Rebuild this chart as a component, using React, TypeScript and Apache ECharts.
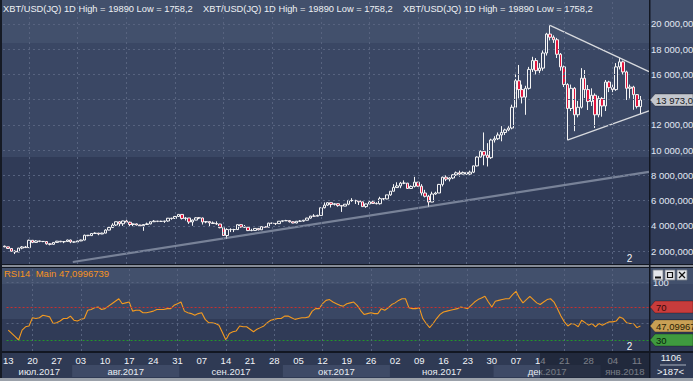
import React, { useEffect, useRef } from "react";
import * as echarts from "echarts";

const FONT = "Liberation Sans, Arial, sans-serif";

const START_DATE = Date.UTC(2017, 6, 13);
const SLOT_COUNT = 186; // 184 daily bars + 2 empty slots on the right

const OPEN = [
  2385, 2330, 2200, 1980, 1920, 2230, 2320, 2270, 2850, 2680,
  2800, 2760, 2750, 2570, 2530, 2680, 2780, 2730, 2750, 2870,
  2720, 2710, 2800, 2870, 3250, 3220, 3390, 3420, 3350, 3420,
  3660, 3860, 4060, 4320, 4160, 4380, 4280, 4100, 4150, 4060,
  4000, 4100, 4150, 4320, 4370, 4350, 4350, 4380, 4600, 4580,
  4740, 4900, 4580, 4620, 4300, 4450, 4630, 4620, 4300, 4330,
  4230, 4180, 4140, 3850, 3230, 3700, 3700, 3700, 4090, 3910,
  3880, 3620, 3630, 3790, 3680, 3930, 3890, 4210, 4190, 4170,
  4360, 4400, 4410, 4320, 4220, 4360, 4370, 4440, 4610, 4770,
  4760, 4820, 5430, 5640, 5830, 5690, 5750, 5600, 5560, 5710,
  6000, 6010, 5980, 5900, 5520, 5730, 5890, 5770, 5750, 6150,
  6130, 6450, 6740, 7030, 7160, 7380, 7380, 6960, 7120, 7460,
  7140, 6600, 6340, 5880, 6520, 6600, 7280, 7850, 7700, 7790,
  8040, 8200, 8100, 8230, 8100, 8250, 8750, 9450, 9900, 9600,
  9400, 10800, 10900, 11200, 11400, 11600, 11750, 13400, 15500, 14800,
  14200, 14900, 16400, 17100, 16300, 16500, 17700, 19200, 18950, 18750,
  17600, 16600, 15200, 13300, 14900, 12800, 13400, 15700, 14800, 13850,
  14350, 12800, 14100, 13500, 15400, 14950, 14800, 16600, 17000, 16200,
  14900, 15000, 14400, 13450,
];
const HIGH = [
  2425, 2340, 2230, 2060, 2250, 2390, 2400, 2900, 2860, 2860,
  2810, 2780, 2760, 2600, 2700, 2800, 2790, 2760, 2900, 2900,
  2740, 2810, 2900, 3300, 3270, 3420, 3480, 3430, 3450, 3720,
  3950, 4200, 4330, 4370, 4400, 4480, 4330, 4180, 4180, 4080,
  4130, 4250, 4340, 4450, 4380, 4400, 4380, 4620, 4630, 4740,
  4900, 4930, 4700, 4620, 4500, 4680, 4680, 4650, 4350, 4330,
  4340, 4350, 4150, 3920, 3800, 3800, 3760, 4100, 4120, 4060,
  3900, 3760, 3820, 3800, 3960, 3980, 4240, 4250, 4210, 4370,
  4400, 4470, 4430, 4350, 4380, 4450, 4460, 4630, 4780, 4920,
  4880, 5430, 5850, 5840, 5840, 5780, 5770, 5600, 5720, 6060,
  6190, 6060, 6040, 5900, 5760, 5970, 5990, 5860, 6300, 6200,
  6450, 6740, 7300, 7450, 7480, 7600, 7400, 7200, 7880, 7460,
  7300, 6850, 6450, 6700, 6700, 7320, 7900, 8000, 7850, 8100,
  8300, 8370, 8300, 8270, 8370, 8760, 9500, 9980, 11400, 10550,
  10900, 11100, 11400, 11900, 11700, 11900, 13600, 16000, 16750, 15200,
  15100, 16600, 17400, 17300, 16900, 17900, 19300, 19890, 19100, 18900,
  17700, 16700, 15300, 15200, 15000, 13900, 16500, 16350, 15160, 14900,
  14500, 14300, 14200, 15560, 15500, 15200, 16900, 17300, 17100, 16300,
  15200, 15100, 14450, 14290,
];
const LOW = [
  2300, 2160, 1960, 1758.2, 1920, 2140, 2270, 2250, 2620, 2670,
  2700, 2700, 2500, 2450, 2520, 2650, 2700, 2620, 2740, 2620,
  2660, 2700, 2780, 2850, 3170, 3210, 3370, 3250, 3340, 3410,
  3640, 3850, 3990, 3900, 3990, 4150, 3980, 3970, 4030, 3950,
  3600, 4080, 4120, 4310, 4290, 4320, 4230, 4320, 4480, 4570,
  4720, 4500, 4420, 4150, 4000, 4440, 4530, 4100, 4200, 3900,
  4150, 4080, 3800, 3220, 2970, 3500, 3500, 3690, 3850, 3860,
  3580, 3570, 3600, 3640, 3670, 3860, 3890, 4140, 4060, 4160,
  4290, 4380, 4260, 4200, 4200, 4350, 4320, 4430, 4570, 4740,
  4750, 4820, 5380, 5580, 5450, 5610, 5510, 5100, 5550, 5630,
  5900, 5730, 5650, 5500, 5420, 5720, 5740, 5700, 5680, 6030,
  6100, 6380, 6740, 7020, 6980, 7300, 6950, 6960, 7040, 7090,
  6400, 6250, 5500, 5870, 6460, 6600, 7120, 7540, 7520, 7700,
  7950, 7900, 8090, 8050, 8030, 8180, 8700, 9420, 8800, 8700,
  9300, 10600, 10800, 10700, 11200, 11500, 11650, 13300, 14100, 13700,
  12800, 14800, 16200, 16000, 16100, 16300, 17500, 18700, 18500, 17300,
  16300, 15000, 10800, 13100, 11500, 12600, 13300, 14130, 13180, 13500,
  11750, 12600, 12650, 13100, 14600, 14400, 14700, 16400, 16000, 13970,
  14100, 13200, 13300, 12850,
];
const CLOSE = [
  2330, 2200, 1980, 1920, 2230, 2320, 2270, 2850, 2680, 2800,
  2760, 2750, 2570, 2530, 2680, 2780, 2730, 2750, 2870, 2720,
  2710, 2800, 2870, 3250, 3220, 3390, 3420, 3350, 3420, 3660,
  3860, 4060, 4320, 4160, 4380, 4280, 4100, 4150, 4060, 4000,
  4100, 4150, 4320, 4370, 4350, 4350, 4380, 4600, 4580, 4740,
  4900, 4580, 4620, 4300, 4450, 4630, 4620, 4300, 4330, 4230,
  4180, 4140, 3850, 3230, 3700, 3700, 3700, 4090, 3910, 3880,
  3620, 3630, 3790, 3680, 3930, 3890, 4210, 4190, 4170, 4360,
  4400, 4410, 4320, 4220, 4360, 4370, 4440, 4610, 4770, 4760,
  4820, 5430, 5640, 5830, 5690, 5750, 5600, 5560, 5710, 6000,
  6010, 5980, 5900, 5520, 5730, 5890, 5770, 5750, 6150, 6130,
  6450, 6740, 7030, 7160, 7380, 7380, 6960, 7120, 7460, 7140,
  6600, 6340, 5880, 6520, 6600, 7280, 7850, 7700, 7790, 8040,
  8200, 8100, 8230, 8100, 8250, 8750, 9450, 9900, 9600, 9400,
  10800, 10900, 11200, 11400, 11600, 11750, 13400, 15500, 14800, 14200,
  14900, 16400, 17100, 16300, 16500, 17700, 19200, 18950, 18750, 17600,
  16600, 15200, 13300, 14900, 12800, 13400, 15700, 14800, 13850, 14350,
  12800, 14100, 13500, 15400, 14950, 14800, 16600, 17000, 16200, 14900,
  15000, 14400, 13450, 13973,
];
const RSI14 = [
  42, 38, 34, 30, 42, 46, 47, 57, 56, 57,
  60, 59, 58, 50, 51, 53, 56, 56, 59, 54,
  53, 55, 56, 66, 67, 69, 70, 67, 68, 71,
  74, 77, 80, 74, 75, 76, 65, 66, 66, 63,
  63, 64, 65, 67, 67, 67, 68, 68, 72, 74,
  76, 65, 63, 62, 60, 62, 63, 55, 51, 51,
  50, 48, 39, 30, 38, 40, 41, 47, 46, 46,
  43, 40, 43, 45, 47, 51, 54, 55, 56, 56,
  59, 59, 57, 55, 56, 57, 57, 58, 65, 68,
  68, 74, 78, 79, 76, 74, 72, 71, 74, 75,
  76, 72, 66, 61, 62, 63, 62, 62, 68, 66,
  69, 73, 75, 78, 80, 80, 69, 68, 68, 69,
  56, 50, 45, 50, 56, 61, 64, 65, 66, 67,
  68, 70, 69, 68, 72, 76, 79, 81, 83, 76,
  70, 77, 78, 79, 80, 80, 85, 89, 81, 75,
  79, 83, 79, 75, 73, 76, 79, 80, 76, 68,
  59, 52, 47, 50, 49, 46, 54, 51, 48, 50,
  46, 50, 48, 50, 52, 52, 53, 58, 56, 51,
  50, 50, 45, 47.0996739,
];

const PRICE_TICKS = [2000, 4000, 6000, 8000, 10000, 12000, 14000, 16000, 18000, 20000];
const RSI_GRID_LEVELS = [100, 50];
const RSI_OVERBOUGHT = 70;
const RSI_OVERSOLD = 30;
const MONTH_NAMES = ["янв.", "фев.", "мар.", "апр.", "май.", "июн.", "июл.", "авг.", "сен.", "окт.", "ноя.", "дек."];
// user-drawn objects (bar index, price)
const TREND_LINE = [[19.6, 1130], [185.5, 8270]];
const TRIANGLE_UPPER = [[157, 19890], [185.5, 16220]];
const TRIANGLE_LOWER = [[162, 10800], [185.5, 13120]];
const LABEL_STEP = 7;
const VGRID_START = 7;
const VGRID_STEP = 14;
const BARS_TOTAL = 1106;
const BARS_VISIBLE = 187;

const CATEGORIES = Array.from({ length: SLOT_COUNT }, (_, i) =>
  new Date(START_DATE + i * 86400000).toISOString().slice(0, 10)
);

function fmtNum(v: number, dec: number) {
  const s = v.toFixed(dec);
  const [ip, dp] = s.split(".");
  const g = ip.replace(/\B(?=(\d{3})+(?!\d))/g, " ");
  return dp ? g + "," + dp : g;
}

const C_TOP = "#42506c";
const C_MID = "#3a4764";
const C_BOT = "#303b57";
const C_DARK = "#121722";
const GRID_LINE = { color: "#57637f", type: [2, 3] as any, width: 1 };

export default function App() {
  const ref = useRef<HTMLDivElement>(null);
  useEffect(() => {
    document.body.style.margin = "0";
    document.body.style.overflow = "hidden";
    const chart = echarts.init(ref.current!, null, { renderer: "svg" });

    const vgrid: number[] = [];
    for (let k = VGRID_START; k < SLOT_COUNT; k += VGRID_STEP) vgrid.push(k);

    const labelStyle = { color: "#e2e8f3", fontSize: 9.5, fontFamily: FONT };

    const option: any = {
      animation: false,
      textStyle: { fontFamily: FONT },
      grid: [
        { left: 3, top: 0, width: 646, height: 264 },
        { left: 3, top: 268, width: 646, height: 83 },
      ],
      xAxis: [
        { type: "category", gridIndex: 0, data: CATEGORIES, boundaryGap: true, show: false },
        { type: "value", gridIndex: 0, min: -0.5, max: SLOT_COUNT - 0.5, show: false, position: "top" },
        {
          type: "category", gridIndex: 1, data: CATEGORIES, boundaryGap: true,
          axisLine: { show: false }, axisTick: { show: false }, splitLine: { show: false },
          axisLabel: {
            interval: (i: number) => i % LABEL_STEP === 0,
            formatter: (v: string) => v.slice(8, 10),
            color: "#f2f4f8", fontSize: 9.5, fontFamily: FONT, margin: 4,
          },
        },
      ],
      yAxis: [
        { type: "value", gridIndex: 0, min: 969.5, max: 21903, show: false },
        { type: "value", gridIndex: 1, min: 16.67, max: 117.27, show: false },
      ],
      series: [
        {
          type: "line", xAxisIndex: 0, yAxisIndex: 0, data: CLOSE, symbol: "none", silent: true,
          lineStyle: { opacity: 0 }, z: 1,
          markLine: {
            silent: true, symbol: ["none", "none"], lineStyle: GRID_LINE,
            data: [
              ...PRICE_TICKS.map((v) => ({
                yAxis: v,
                label: { show: true, position: "end", distance: 2, formatter: fmtNum(v, 3), ...labelStyle },
              })),
              ...vgrid.map((k) => ({ xAxis: k, label: { show: false } })),
            ],
          },
        },
        {
          type: "candlestick", xAxisIndex: 0, yAxisIndex: 0, z: 3, silent: true,
          barWidth: 3,
          data: OPEN.map((o, i) => [o, CLOSE[i], LOW[i], HIGH[i]]),
          itemStyle: {
            color: "rgba(0,0,0,0)", color0: "#e3153d",
            borderColor: "#f4f4f4", borderColor0: "#f4f4f4", borderWidth: 1,
          },
        },
        {
          type: "line", xAxisIndex: 1, yAxisIndex: 0, data: TREND_LINE, symbol: "none", silent: true, z: 4,
          lineStyle: { color: "rgba(165,174,192,0.62)", width: 2.2 },
        },
        {
          type: "line", xAxisIndex: 1, yAxisIndex: 0, data: TRIANGLE_UPPER, symbol: "none", silent: true, z: 4,
          lineStyle: { color: "#d8dade", width: 1.3 },
        },
        {
          type: "line", xAxisIndex: 1, yAxisIndex: 0, data: TRIANGLE_LOWER, symbol: "none", silent: true, z: 4,
          lineStyle: { color: "#d8dade", width: 1.3 },
        },
        {
          type: "line", xAxisIndex: 2, yAxisIndex: 1, data: RSI14, symbol: "none", silent: true,
          lineStyle: { opacity: 0 }, z: 1,
          markLine: {
            silent: true, symbol: ["none", "none"], lineStyle: GRID_LINE,
            data: [
              ...RSI_GRID_LEVELS.map((v) => ({
                yAxis: v,
                label: { show: true, position: "end", distance: 4, formatter: String(v), ...labelStyle },
              })),
              { yAxis: RSI_OVERBOUGHT, label: { show: false }, lineStyle: { color: "#c8302e", type: [2, 2], width: 1 } },
              { yAxis: RSI_OVERSOLD, label: { show: false }, lineStyle: { color: "#23962a", type: [2, 2], width: 1 } },
              ...vgrid.map((k) => ({ xAxis: k, label: { show: false } })),
            ],
          },
        },
        {
          type: "line", xAxisIndex: 2, yAxisIndex: 1, data: RSI14, symbol: "none", silent: true, z: 3,
          lineStyle: { color: "#f39a20", width: 1.1 },
        },
      ],
    };
    chart.setOption(option);

    const px = (k: number) => chart.convertToPixel({ xAxisIndex: 2 }, k) as number;
    const pyMain = (v: number) => chart.convertToPixel({ yAxisIndex: 0 }, v) as number;
    const pyRsi = (v: number) => chart.convertToPixel({ yAxisIndex: 1 }, v) as number;
    const band = px(1) - px(0);

    const rect = (x: number, y: number, w: number, h: number, fill: string, z = -10) => ({
      type: "rect", z, silent: true, shape: { x, y, width: w, height: h }, style: { fill },
    });
    const text = (x: number, y: number, t: string, fill: string, align = "left", size = 9.5, z = 20) => ({
      type: "text", z, silent: true, x, y,
      style: { text: t, fill, fontSize: size, fontFamily: FONT, align, verticalAlign: "middle" },
    });
    const line = (x1: number, y1: number, x2: number, y2: number, stroke: string, w = 1, z = 20) => ({
      type: "line", z, silent: true, shape: { x1, y1, x2, y2 }, style: { stroke, lineWidth: w },
    });
    const tag = (yc: number, label: string, fill: string, txt: string) => [
      {
        type: "polygon", z: 60, silent: true,
        shape: { points: [[650, yc], [655, yc - 6], [693, yc - 6], [693, yc + 6], [655, yc + 6]] },
        style: { fill, stroke: "rgba(0,0,0,0.35)", lineWidth: 0.8 },
      },
      text(656, yc + 0.5, label, txt, "left", 9.5, 61),
    ];

    const els: any[] = [
      rect(0, 0, 693, 43, C_TOP), rect(0, 43, 693, 114, C_MID), rect(0, 157, 693, 107, C_BOT),
      rect(0, 264, 693, 1, C_DARK), rect(0, 265, 693, 2, "#868c97"), rect(0, 267, 693, 1, C_DARK),
      rect(0, 268, 693, 16, C_TOP), rect(0, 284, 693, 35, C_MID), rect(0, 319, 693, 32, C_BOT),
      rect(0, 351, 693, 2, C_DARK), rect(0, 353, 693, 25, "#2f3a54"), rect(0, 378, 693, 3, "#9ba1aa"),
      rect(0, 0, 2, 378, "#151a24", 30), rect(649, 0, 1.5, 378, C_DARK, 30),
    ];

    const months: { key: string; first: number; last: number; m: number; y: number }[] = [];
    CATEGORIES.forEach((c, k) => {
      const key = c.slice(0, 7);
      const cur = months[months.length - 1];
      if (cur && cur.key === key) cur.last = k;
      else months.push({ key, first: k, last: k, m: Number(c.slice(5, 7)) - 1, y: Number(c.slice(0, 4)) });
    });
    months.forEach((mo, i) => {
      const x0 = Math.max(2, px(mo.first) - band / 2);
      const x1 = Math.min(649, px(mo.last) + band / 2);
      if (i % 2 === 1) els.push(rect(x0, 365, x1 - x0, 12, "#3e4a66", -9));
      els.push(text((x0 + x1) / 2, 371.5, MONTH_NAMES[mo.m] + mo.y, "#e8ecf2", "center", 9.5, 20));
    });
    els.push(rect(540, 353, 109, 25, "rgba(22,28,40,0.55)", 50));

    const title = `XBT/USD(JQ) 1D High = ${Math.max(...HIGH)} Low = ${String(Math.min(...LOW)).replace(".", ",")}`;
    [3, 203, 403].forEach((x) => els.push(text(x, 8.5, title, "#eef0f4", "left", 9.3, 20)));
    const lastRsi = RSI14[RSI14.length - 1];
    els.push(text(4, 273.5, `RSI14  Main ${String(lastRsi).replace(".", ",")}`, "#f7931e", "left", 9.5, 20));
    els.push(text(629.5, 258.5, "2", "#f0f2f6", "center", 10, 20));
    els.push(text(629.5, 346.5, "2", "#f0f2f6", "center", 10, 20));

    const lastClose = CLOSE[CLOSE.length - 1];
    els.push(...tag(pyMain(lastClose), fmtNum(lastClose, 3), "#c3c7ce", "#15171b"));
    els.push(...tag(pyRsi(RSI_OVERBOUGHT), String(RSI_OVERBOUGHT), "#c83c3c", "#3a0808"));
    els.push(...tag(pyRsi(lastRsi), String(lastRsi).replace(".", ","), "#c9a055", "#2a1e05"));
    els.push(...tag(pyRsi(RSI_OVERSOLD), String(RSI_OVERSOLD), "#3f9a3f", "#072207"));

    [653, 665, 677].forEach((x) => els.push({
      type: "rect", z: 70, silent: true, shape: { x, y: 270, width: 10, height: 10 },
      style: { fill: "#e4e6ea", stroke: "#7c828c", lineWidth: 0.8 },
    }));
    els.push(line(655, 277.5, 661, 277.5, "#111", 2, 71));
    els.push({ type: "rect", z: 71, silent: true, shape: { x: 667.5, y: 272.5, width: 5, height: 5 }, style: { fill: "none", stroke: "#111", lineWidth: 1.2 } });
    els.push(line(679, 272, 685, 278, "#111", 1.3, 71));
    els.push(line(685, 272, 679, 278, "#111", 1.3, 71));

    els.push(text(671, 357.5, String(BARS_TOTAL), "#f0f2f6", "center", 9.5, 20));
    els.push(line(660, 365, 686, 365, "#aab1bd", 1, 20));
    els.push(text(670.5, 371.5, `>${BARS_VISIBLE}<`, "#f0f2f6", "center", 9.5, 20));

    chart.setOption({ graphic: { elements: els } });
    return () => chart.dispose();
  }, []);
  return <div ref={ref} style={{ width: 693, height: 381, overflow: "hidden", background: "#303b57" }} />;
}
